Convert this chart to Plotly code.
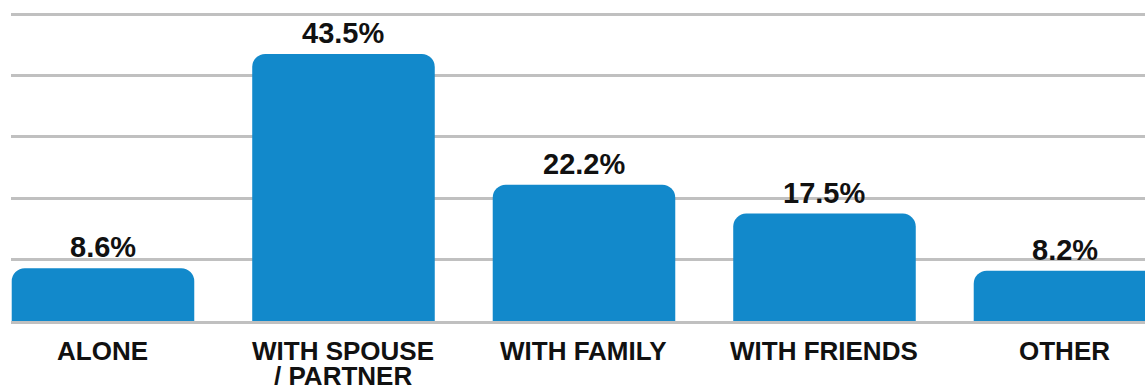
import plotly.graph_objects as go

# Who respondents travel with (share of respondents, %)
categories = ["ALONE", "WITH SPOUSE<br>/ PARTNER", "WITH FAMILY", "WITH FRIENDS", "OTHER"]
shares = [8.6, 43.5, 22.2, 17.5, 8.2]
value_labels = ["8.6%", "43.5%", "22.2%", "17.5%", "8.2%"]
grid_values = [10, 20, 30, 40, 50]

BAR_COLOR = "#1289cb"
GRID_COLOR = "#c0c0c0"
FONT = "Liberation Sans, Arial, sans-serif"

x_pos = list(range(len(categories)))

fig = go.Figure(
    go.Bar(
        x=x_pos,
        y=shares,
        marker=dict(color=BAR_COLOR, line=dict(width=0)),
        hoverinfo="skip",
    )
)

annotations = []
# value labels above each bar
for xi, val, lab in zip(x_pos, shares, value_labels):
    annotations.append(dict(
        x=xi, y=val, xref="x", yref="y",
        text=lab, showarrow=False,
        xanchor="center", yanchor="bottom", yshift=3,
        font=dict(family=FONT, size=29, color="#111111", weight="bold"),
    ))

# category labels under the baseline (one annotation per text line)
for xi, cat in zip(x_pos, categories):
    for k, line in enumerate(cat.split("<br>")):
        annotations.append(dict(
            x=xi, y=0, xref="x", yref="paper",
            text=line, showarrow=False,
            xanchor="center", yanchor="top", yshift=-13 - 25 * k,
            font=dict(family=FONT, size=26, color="#111111", weight="bold"),
        ))

fig.update_layout(
    width=1145,
    height=385,
    margin=dict(l=11, r=0, t=11, b=64),
    paper_bgcolor="white",
    plot_bgcolor="white",
    bargap=0.241,
    barcornerradius=13,
    showlegend=False,
    annotations=annotations,
    xaxis=dict(
        range=[-0.3825, 4.3327],
        showticklabels=False,
        showgrid=False,
        zeroline=False,
        showline=True,
        linecolor=GRID_COLOR,
        linewidth=3,
        ticks="",
        fixedrange=True,
    ),
    yaxis=dict(
        range=[0, 50.5],
        tickvals=grid_values,
        showticklabels=False,
        showgrid=True,
        gridcolor=GRID_COLOR,
        gridwidth=3,
        zeroline=False,
        showline=False,
        ticks="",
        fixedrange=True,
    ),
)

fig.write_html("out.html", config={"displayModeBar": False})
